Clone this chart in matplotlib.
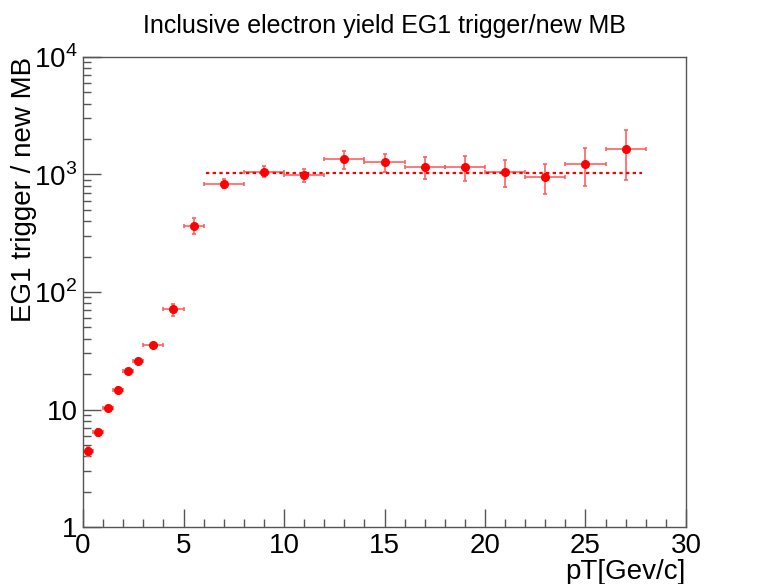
import numpy as np
import matplotlib.pyplot as plt
from matplotlib.ticker import FixedLocator, FixedFormatter, MultipleLocator, LogLocator, NullFormatter

plt.rcParams["font.family"] = ["Liberation Sans", "DejaVu Sans"]
plt.rcParams["mathtext.fontset"] = "custom"
plt.rcParams["mathtext.rm"] = "Liberation Sans"

# bins in pT
bin_lo = [0, 0.5, 1, 1.5, 2, 2.5, 3, 4, 5, 6, 8, 10, 12, 14, 16, 18, 20, 22, 24, 26]
bin_hi = [0.5, 1, 1.5, 2, 2.5, 3, 4, 5, 6, 8, 10, 12, 14, 16, 18, 20, 22, 24, 26, 28]
ratio = [4.4, 6.4, 10.3, 14.7, 21.1, 26.0, 35.4, 71.6, 368, 834, 1060, 988, 1352,
         1282, 1162, 1169, 1060, 950, 1233, 1664]
err_up = [0.4, 0.4, 0.5, 0.7, 0.9, 1.1, 1.6, 6.7, 59, 84, 125, 115, 228,
          226, 243, 264, 273, 283, 452, 748]
err_dn = [0.4, 0.4, 0.5, 0.7, 0.9, 1.1, 1.6, 9.1, 59, 71, 110, 126, 234,
          222, 248, 290, 274, 269, 427, 763]

fit_value = 1020
fit_range = [6.1, 27.8]

x = (np.array(bin_lo) + np.array(bin_hi)) / 2
xerr = (np.array(bin_hi) - np.array(bin_lo)) / 2

fig = plt.figure(figsize=(7.59, 5.84), dpi=100)
ax = fig.add_axes([0.1094, 0.0976, 0.7944, 0.8048])

ax.errorbar(x, ratio, xerr=xerr, yerr=[err_dn, err_up], fmt="none",
            ecolor="#ff6060", elinewidth=1.2, capsize=1.5, capthick=1.2)
ax.plot(x, ratio, "o", color="red", markersize=5.5, zorder=3)
ax.plot(fit_range, [fit_value, fit_value], color="red", linestyle=(0, (1.5, 1.5)),
        linewidth=1.6, zorder=2)

ax.set_xlim(0, 30)
ax.set_yscale("log")
ax.set_ylim(1, 1e4)

ax.xaxis.set_major_locator(MultipleLocator(5))
ax.xaxis.set_minor_locator(MultipleLocator(1))
ax.yaxis.set_major_locator(FixedLocator([1, 10, 100, 1000, 10000]))
ax.yaxis.set_major_formatter(FixedFormatter(["1", "10", "$10^2$", "$10^3$", "$10^4$"]))
ax.yaxis.set_minor_locator(LogLocator(base=10, subs=np.arange(2, 10)))
ax.yaxis.set_minor_formatter(NullFormatter())

ax.tick_params(which="both", direction="in", top=False, right=False, colors="#555555",
               labelcolor="black", labelsize=20, width=1)
ax.tick_params(which="major", length=13)
ax.tick_params(which="minor", length=6)
ax.tick_params(axis="x", pad=4)
ax.tick_params(axis="y", pad=4)
for s in ax.spines.values():
    s.set_color("#555555")
    s.set_linewidth(1)

ax.set_title("Inclusive electron yield EG1 trigger/new MB", fontsize=18, pad=17)
ax.set_ylabel("EG1 trigger / new MB", fontsize=20, loc="top", labelpad=-2)
ax.set_xlabel("pT[Gev/c]", fontsize=20, loc="right", labelpad=0)

fig.savefig("out.png", dpi=100)
